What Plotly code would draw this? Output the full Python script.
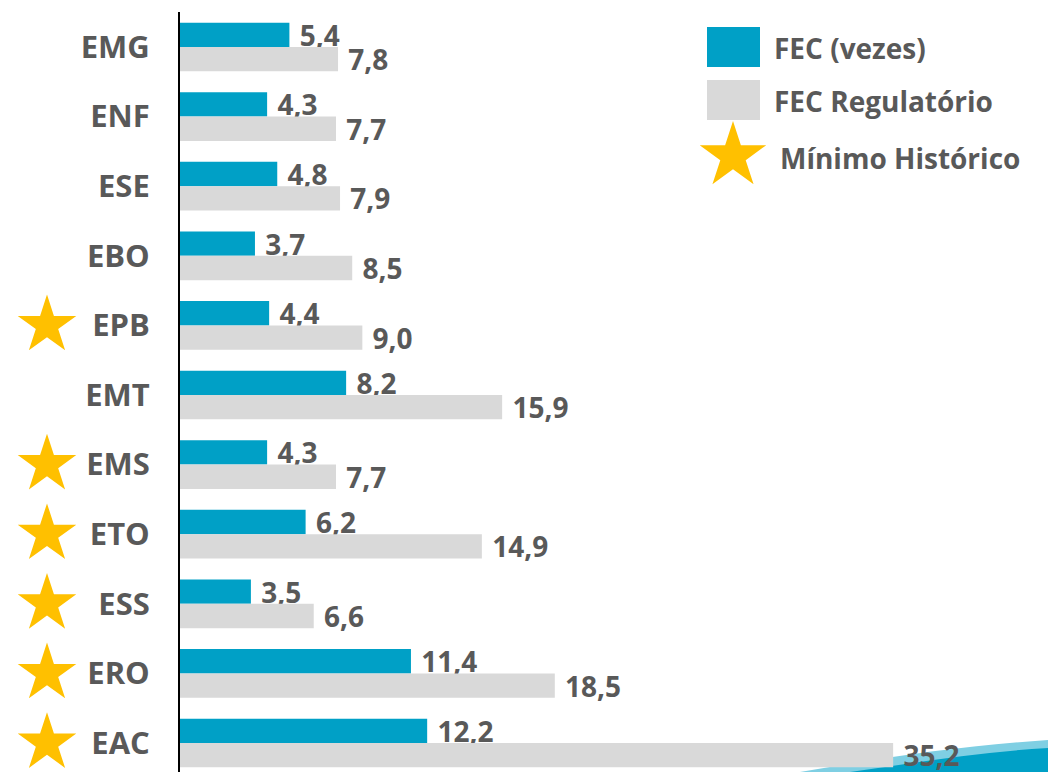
import plotly.graph_objects as go

categorias = ["EMG", "ENF", "ESE", "EBO", "EPB", "EMT", "EMS", "ETO", "ESS", "ERO", "EAC"]
fec = [5.4, 4.3, 4.8, 3.7, 4.4, 8.2, 4.3, 6.2, 3.5, 11.4, 12.2]
fec_regulatorio = [7.8, 7.7, 7.9, 8.5, 9.0, 15.9, 7.7, 14.9, 6.6, 18.5, 35.2]
minimo_historico = ["EPB", "EMS", "ETO", "ESS", "ERO", "EAC"]
legend_labels = ["FEC (vezes)", "FEC Regulatório", "Mínimo Histórico"]

W, H = 1048, 772
BLUE = "#00A0C6"
GRAY = "#D9D9D9"
TXT = "#595959"
GOLD = "#FFC000"
FONT = "Open Sans"

PLOT_L = 180
PX_PER_UNIT = 20.26
ROW = 69.6
TOP = 12
FIRST_CENTER = 47

fig = go.Figure()

fig.add_bar(
    y=categorias, x=fec, orientation="h", name=legend_labels[0],
    marker=dict(color=BLUE, line=dict(width=0)),
    texttemplate="\u00a0%{x:.1f}", textposition="outside", constraintext="none",
    cliponaxis=False,
    textfont=dict(family=FONT, size=28, color=TXT, weight="bold"),
)
fig.add_bar(
    y=categorias, x=fec_regulatorio, orientation="h", name=legend_labels[1],
    marker=dict(color=GRAY, line=dict(width=0)),
    texttemplate="\u00a0%{x:.1f}", textposition="outside", constraintext="none",
    cliponaxis=False,
    textfont=dict(family=FONT, size=28, color=TXT, weight="bold"),
)

# stars for historic minimum, in the left margin column
fig.add_scatter(
    y=minimo_historico, x=[47] * len(minimo_historico), xaxis="x2", yaxis="y",
    mode="markers", marker=dict(symbol="star", size=44, color=GOLD, line=dict(width=0)),
    showlegend=False, hoverinfo="skip", cliponaxis=False,
)

# legend star on pixel overlay
fig.add_scatter(
    x=[733], y=[156], xaxis="x3", yaxis="y3", mode="markers",
    marker=dict(symbol="star", size=50, color=GOLD, line=dict(width=0)),
    showlegend=False, hoverinfo="skip", cliponaxis=False,
)

y_top = -(FIRST_CENTER - TOP) / ROW
y_bottom = y_top + (H - TOP) / ROW

fig.update_layout(
    width=W, height=H,
    margin=dict(l=0, r=0, t=0, b=0, autoexpand=False),
    paper_bgcolor="white", plot_bgcolor="rgba(0,0,0,0)",
    barmode="group", bargap=0.30, bargroupgap=0,
    separators=",.",
    showlegend=False,
    xaxis=dict(domain=[PLOT_L / W, 1], range=[0, (W - PLOT_L) / PX_PER_UNIT],
               visible=False, anchor="y", automargin=False),
    yaxis=dict(domain=[0, 1 - TOP / H], range=[y_bottom, y_top],
               categoryorder="array", categoryarray=categorias,
               showline=True, linecolor="black", linewidth=2,
               showgrid=False, zeroline=False, automargin=False,
               ticks="outside", ticklen=22, tickcolor="rgba(0,0,0,0)",
               tickfont=dict(family=FONT, size=31, color=TXT, weight="bold"),
               anchor="x"),
    xaxis2=dict(domain=[0, PLOT_L / W], range=[0, PLOT_L], visible=False, anchor="y",
                automargin=False),
    xaxis3=dict(domain=[0, 1], range=[0, W], visible=False, anchor="y3", automargin=False),
    yaxis3=dict(domain=[0, 1], range=[H, 0], visible=False, anchor="x3", automargin=False),
)

# legend boxes and texts
fig.add_shape(type="rect", xref="x3", yref="y3", x0=707, x1=760, y0=27, y1=67,
              fillcolor=BLUE, line=dict(width=0))
fig.add_shape(type="rect", xref="x3", yref="y3", x0=707, x1=760, y0=80, y1=120,
              fillcolor=GRAY, line=dict(width=0))
for lbl, lx, ly in zip(legend_labels, [772, 772, 778], [48, 101, 158]):
    fig.add_annotation(x=lx, y=ly, xref="x3", yref="y3", text=lbl, showarrow=False,
                       xanchor="left", yanchor="middle",
                       font=dict(family=FONT, size=28, color=TXT, weight="bold"))


# decorative swoosh at bottom right (paper coords == page pixels, margins are 0)
def px_path(points):
    parts = []
    for cmd, coords in points:
        xy = " ".join(f"{x / W:.5f},{1 - y / H:.5f}" for x, y in coords)
        parts.append(f"{cmd} {xy}")
    return " ".join(parts) + " Z"


fig.add_shape(type="path", xref="paper", yref="paper", layer="below",
              path=px_path([("M", [(800, 772)]),
                            ("C", [(880, 758), (960, 746), (1048, 740)]),
                            ("L", [(1048, 772)])]),
              fillcolor="#7FCFE3", line=dict(width=0))
fig.add_shape(type="path", xref="paper", yref="paper", layer="below",
              path=px_path([("M", [(850, 772)]),
                            ("C", [(920, 762), (980, 752), (1048, 748)]),
                            ("L", [(1048, 772)])]),
              fillcolor=BLUE, line=dict(width=0))

fig.write_html("out.html", config={"displayModeBar": False},
               post_script="document.body.style.margin='0';document.body.style.overflow='hidden';")
